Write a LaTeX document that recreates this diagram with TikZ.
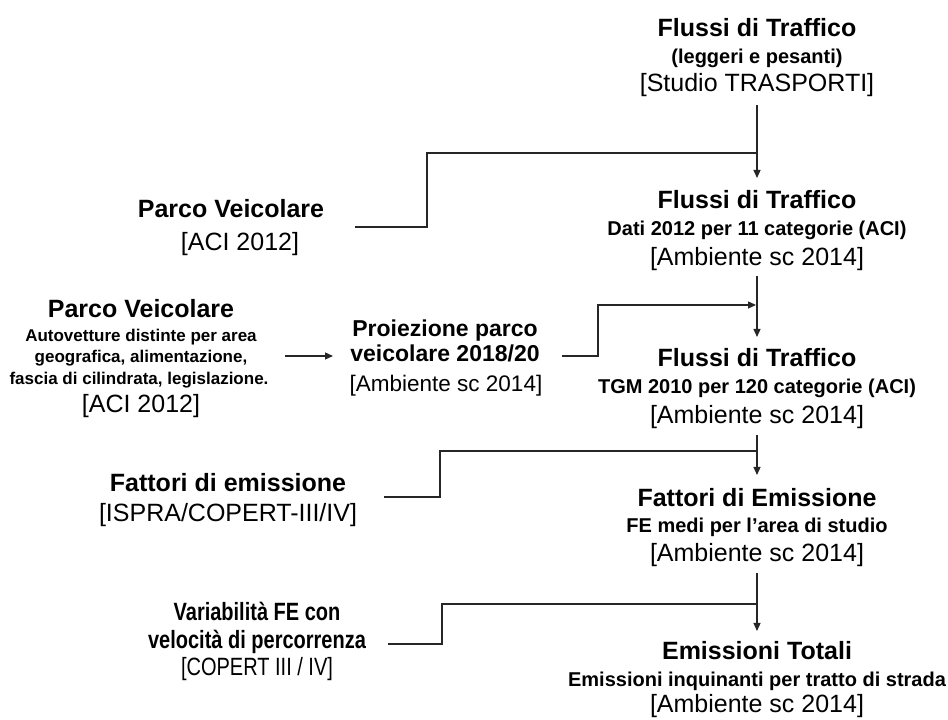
\documentclass[tikz,border=0pt]{standalone}
\usepackage{fontspec}
\usepackage{graphicx}
\setmainfont{Liberation Sans}
\usetikzlibrary{arrows.meta}
\tikzset{
  lbl/.style={anchor=base, inner sep=0pt, text=black},
  ttl/.style={lbl, font=\fontsize{25}{30}\selectfont\bfseries},
  ptl/.style={lbl, font=\fontsize{23}{28}\selectfont\bfseries},
  subt/.style={lbl, font=\fontsize{20}{24}\selectfont\bfseries},
  ssub/.style={lbl, font=\fontsize{17}{20}\selectfont\bfseries},
  src/.style={lbl, font=\fontsize{25}{30}\selectfont},
  psrc/.style={lbl, font=\fontsize{22.5}{27}\selectfont},
  conn/.style={draw=black!85, line width=1.2pt},
  arr/.style={conn, -{Triangle[length=8pt,width=7pt]}}
}
\newcommand{\narrowtxt}[1]{\scalebox{0.8}[1]{#1}}
\begin{document}
\begin{tikzpicture}[x=1pt,y=1pt]
\useasboundingbox (0,0) rectangle (948,720);
% right column
\node[ttl]  (a1) at (757,683) {Flussi di Traffico};
\node[subt] (a2) at (757,656) {(leggeri e pesanti)};
\node[src]  (a3) at (757,628) {[Studio TRASPORTI]};
\node[ttl]  (b1) at (757,511) {Flussi di Traffico};
\node[subt] (b2) at (757,484) {Dati 2012 per 11 categorie (ACI)};
\node[src]  (b3) at (757,454) {[Ambiente sc 2014]};
\node[ttl]  (c1) at (757,353) {Flussi di Traffico};
\node[subt] (c2) at (757,326) {TGM 2010 per 120 categorie (ACI)};
\node[src]  (c3) at (757,296) {[Ambiente sc 2014]};
\node[ttl]  (d1) at (757,213) {Fattori di Emissione};
\node[subt] (d2) at (757,187) {FE medi per l’area di studio};
\node[src]  (d3) at (757,158) {[Ambiente sc 2014]};
\node[ttl]  (e1) at (757,60) {Emissioni Totali};
\node[subt] (e2) at (757,33) {Emissioni inquinanti per tratto di strada};
\node[src]  (e3) at (757,7) {[Ambiente sc 2014]};
% left sources
\node[ttl]  (l1a) at (231,502) {Parco Veicolare};
\node[src]  (l1b) at (240,469) {[ACI 2012]};
\node[ttl]  (l2a) at (141,402) {Parco Veicolare};
\node[ssub] (l2b) at (141,378) {Autovetture distinte per area};
\node[ssub] (l2c) at (141,357) {geografica, alimentazione,};
\node[ssub] (l2d) at (139,335) {fascia di cilindrata, legislazione.};
\node[src]  (l2e) at (141,307) {[ACI 2012]};
\node[ptl]  (p1) at (445,383) {Proiezione parco};
\node[ptl]  (p2) at (445,358) {veicolare 2018/20};
\node[psrc] (p3) at (446,328) {[Ambiente sc 2014]};
\node[ttl]  (f1) at (228,228) {Fattori di emissione};
\node[src]  (f2) at (228,198) {[ISPRA/COPERT-III/IV]};
\node[ttl]  (v1) at (257,99) {\narrowtxt{Variabilità FE con}};
\node[ttl]  (v2) at (257,71) {\narrowtxt{velocità di percorrenza}};
\node[src]  (v3) at (257,44) {\narrowtxt{[COPERT III / IV]}};
% connector coordinates
\coordinate (ab0) at (757,615);
\coordinate (ab1) at (757,542);
\coordinate (bc0) at (757,444);
\coordinate (bc1) at (757,383);
\coordinate (cd0) at (757,285);
\coordinate (cd1) at (757,245);
\coordinate (de0) at (757,147);
\coordinate (de1) at (757,89);
\coordinate (s1) at (355,493);
\coordinate (k1) at (427,567);
\coordinate (j1) at (757,567);
\coordinate (s2) at (285,364);
\coordinate (t2) at (333,364);
\coordinate (s3) at (562,364);
\coordinate (k3) at (598,415);
\coordinate (j3) at (756,415);
\coordinate (s4) at (384,223);
\coordinate (k4) at (440,269);
\coordinate (j4) at (757,269);
\coordinate (s5) at (388,76);
\coordinate (k5) at (442,116);
\coordinate (j5) at (757,116);
% connectors
\draw[arr] (ab0) -- (ab1);
\draw[arr] (bc0) -- (bc1);
\draw[arr] (cd0) -- (cd1);
\draw[arr] (de0) -- (de1);
\draw[conn] (s1) -| (k1) -- (j1);
\draw[arr] (s2) -- (t2);
\draw[arr] (s3) -| (k3) -- (j3);
\draw[conn] (s4) -| (k4) -- (j4);
\draw[conn] (s5) -| (k5) -- (j5);
\end{tikzpicture}
\end{document}
